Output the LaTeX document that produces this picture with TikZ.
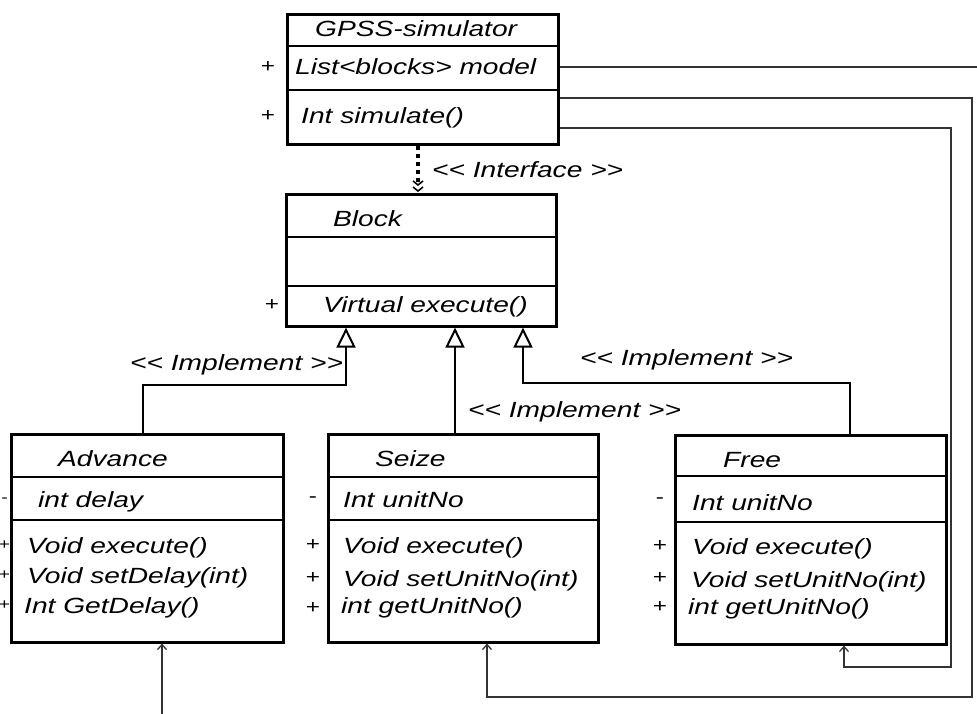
\documentclass[tikz,border=0pt]{standalone}
\usepackage{fontspec}
\setmainfont{Liberation Sans}[FakeStretch=1.28]
\usetikzlibrary{arrows.meta,calc}
\tikzset{
  classbox/.style={draw, line width=2.6pt, inner sep=0pt, anchor=north west},
  divider/.style={line width=2.4pt},
  txt/.style={anchor=base west, inner sep=0pt, font=\fontsize{22}{24}\selectfont\itshape},
  sign/.style={anchor=center, inner sep=0pt, font=\fontsize{19}{20}\selectfont},
  impl/.style={line width=2.8pt, -{Triangle[open, length=20pt, width=19pt, line width=2pt]}},
  iface/.style={line width=3.5pt, dash pattern=on 4pt off 4pt},
  assoc/.style={line width=1.6pt, draw=black!80, -{Straight Barb[length=5pt, width=9pt, line width=1.3pt]}},
  plain/.style={line width=1.6pt, draw=black!80}
}
\begin{document}
\begin{tikzpicture}[x=1pt, y=-1pt]
\useasboundingbox (0,0) rectangle (977,713);

% ---------- GPSS-simulator ----------
\node[classbox, minimum width=271pt, minimum height=130pt] (gpss) at (286,13) {};
\draw[divider] (286,46) -- (557,46);
\draw[divider] (286,90) -- (557,90);
\node[txt] (gpssT) at (315,36) {GPSS-simulator};
\node[txt] (gpssA) at (295,74) {List<{}blocks>{} model};
\node[txt] (gpssM) at (301,123) {Int simulate()};
\node[sign] (gpssS1) at (268,67) {+};
\node[sign] (gpssS2) at (268,116) {+};

% ---------- Block ----------
\node[classbox, minimum width=270pt, minimum height=132pt] (block) at (285,193) {};
\draw[divider] (285,237) -- (555,237);
\draw[divider] (285,286) -- (555,286);
\node[txt] (blockT) at (333,226) {Block};
\node[txt] (blockM) at (323,312) {Virtual execute()};
\node[sign] (blockS) at (272,305) {+};

% ---------- Advance ----------
\node[classbox, minimum width=272pt, minimum height=208pt] (adv) at (10,433) {};
\draw[divider] (10,477) -- (282,477);
\draw[divider] (10,520) -- (282,520);
\node[txt] (advT) at (58,466) {Advance};
\node[txt] (advA) at (38,507) {int delay};
\node[txt] (advM1) at (27,553) {Void execute()};
\node[txt] (advM2) at (27,583) {Void setDelay(int)};
\node[txt] (advM3) at (24,613) {Int GetDelay()};
\node[sign, font=\fontsize{15}{16}\selectfont] (advS0) at (4.5,500) {-};
\node[sign, font=\fontsize{15}{16}\selectfont] (advS1) at (4.5,545) {+};
\node[sign, font=\fontsize{15}{16}\selectfont] (advS2) at (4.5,575) {+};
\node[sign, font=\fontsize{15}{16}\selectfont] (advS3) at (4.5,605) {+};

% ---------- Seize ----------
\node[classbox, minimum width=270pt, minimum height=208pt] (seize) at (327,433) {};
\draw[divider] (327,477) -- (597,477);
\draw[divider] (327,520) -- (597,520);
\node[txt] (seizeT) at (375,466) {Seize};
\node[txt] (seizeA) at (343,507) {Int unitNo};
\node[txt] (seizeM1) at (343,553) {Void execute()};
\node[txt] (seizeM2) at (343,586) {Void setUnitNo(int)};
\node[txt] (seizeM3) at (341,613) {int getUnitNo()};
\node[sign] (seizeS0) at (313,500) {-};
\node[sign] (seizeS1) at (313,545) {+};
\node[sign] (seizeS2) at (313,578) {+};
\node[sign] (seizeS3) at (313,608) {+};

% ---------- Free ----------
\node[classbox, minimum width=271pt, minimum height=209pt] (free) at (674,434) {};
\draw[divider] (674,476) -- (945,476);
\draw[divider] (674,522) -- (945,522);
\node[txt] (freeT) at (723,467) {Free};
\node[txt] (freeA) at (692,510) {Int unitNo};
\node[txt] (freeM1) at (692,554) {Void execute()};
\node[txt] (freeM2) at (691,587) {Void setUnitNo(int)};
\node[txt] (freeM3) at (688,614) {int getUnitNo()};
\node[sign] (freeS0) at (660,501) {-};
\node[sign] (freeS1) at (660,546) {+};
\node[sign] (freeS2) at (660,578) {+};
\node[sign] (freeS3) at (660,607) {+};

% ---------- helper coordinates ----------
\coordinate (xI) at (418,0);
\coordinate (xa) at (143,0);
\coordinate (xb1) at (346,0);
\coordinate (xb2) at (455,0);
\coordinate (xb3) at (523,0);
\coordinate (xf) at (850,0);
\coordinate (r1) at (985,67);
\coordinate (r2) at (972,98);
\coordinate (r3) at (951,128);
\coordinate (bot2) at (487,697);
\coordinate (bot3) at (844,667);
\coordinate (advIn) at (162,720);

% ---------- interface ----------
\draw[iface] (gpss.south -| xI) -- ($(block.north -| xI)+(0,-8)$);
\draw[line width=1.6pt] ($(block.north -| xI)+(-5,-12)$) -- ($(block.north -| xI)+(0,-8)$) -- ($(block.north -| xI)+(5,-12)$);
\draw[line width=1.6pt] ($(block.north -| xI)+(-5,-6)$) -- ($(block.north -| xI)+(0,-2)$) -- ($(block.north -| xI)+(5,-6)$);
\node[txt] (ifaceL) at (432,177) {<{}< Interface >{}>};

% ---------- implement ----------
\draw[impl] (adv.north -| xa) -- ++(0,-48) -| (block.south -| xb1);
\draw[impl] (seize.north -| xb2) -- (block.south -| xb2);
\draw[impl] (free.north -| xf) -- ++(0,-51) -| (block.south -| xb3);
\node[txt] (impl1) at (130,370) {<{}< Implement >{}>};
\node[txt] (impl2) at (468,417) {<{}< Implement >{}>};
\node[txt] (impl3) at (580,365) {<{}< Implement >{}>};

% ---------- associations ----------
\draw[plain] (r1 -| gpss.east) -- (r1);
\draw[assoc] (r2 -| gpss.east) -- (r2) |- (bot2) -- (seize.south -| bot2);
\draw[assoc] (r3 -| gpss.east) -- (r3) |- (bot3) -- (free.south -| bot3);
\draw[assoc] (advIn) -- (adv.south -| advIn);
\end{tikzpicture}
\end{document}
